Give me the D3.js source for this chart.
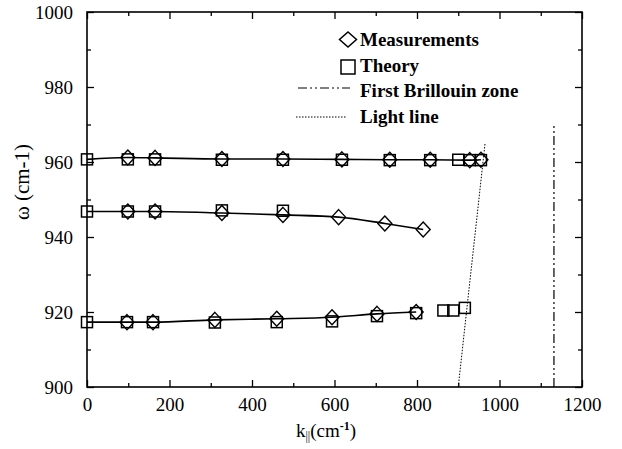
<!DOCTYPE html>
<html>
<head>
<meta charset="utf-8">
<script src="https://cdn.jsdelivr.net/npm/d3@7"></script>
<style>
  body { margin: 0; background: #fff; }
</style>
</head>
<body>
<svg id="chart" width="622" height="449"></svg>
<script>
// upper mode
var kTheoryTop = [0, 99, 165, 327, 475, 618, 734, 832, 900, 928, 955];
var wTheoryTop = [960.7, 960.7, 960.7, 960.6, 960.6, 960.6, 960.5, 960.5, 960.6, 960.5, 960.5];
var kMeasTop = [99, 165, 327, 475, 618, 734, 832, 928, 955];
var wMeasTop = [961.2, 961.1, 960.8, 960.8, 960.7, 960.6, 960.6, 960.5, 960.6];

// middle mode
var kTheoryMid = [0, 99, 165, 327, 475];
var wTheoryMid = [946.8, 946.8, 946.8, 947.1, 947.0];
var kMeasMid = [99, 165, 327, 475, 610, 722, 815];
var wMeasMid = [946.8, 946.8, 946.4, 945.9, 945.3, 943.6, 942.0];

// lower mode
var kTheoryBot = [0, 97, 160, 310, 460, 594, 703, 798, 864, 888, 916];
var wTheoryBot = [917.3, 917.3, 917.3, 917.2, 917.3, 917.5, 918.9, 919.7, 920.4, 920.4, 921.1];
var kMeasBot = [97, 160, 310, 460, 594, 703, 798];
var wMeasBot = [917.3, 917.3, 917.9, 918.2, 918.6, 919.5, 920.0];

// reference lines
var brillouinK = 1132;
var brillouinW = [900, 970];
var lightK = [900, 965];
var lightW = [900, 965];

var xTicks = [0, 200, 400, 600, 800, 1000, 1200];
var yTicks = [900, 920, 940, 960, 980, 1000];

var mLeft = 87, mRight = 582, mTop = 12, mBottom = 387;
var serif = "'Liberation Serif', 'Times New Roman', serif";

var svg = d3.select("#chart").style("font-family", serif);

var x = d3.scaleLinear().domain([0, 1200]).range([mLeft, mRight]);
var y = d3.scaleLinear().domain([900, 1000]).range([mBottom, mTop]);
var fmt = d3.format("d");

function pts(ks, ws) {
    return ks.map(function (k, i) { return [k, ws[i]]; });
}

// axes, ticks pointing inward on all four sides
function addAxis(axis, tf, major) {
    var g = svg.append("g").attr("transform", tf).call(axis.tickFormat(fmt));
    g.attr("font-family", serif).attr("font-size", 19);
    g.select(".domain").remove();
    g.selectAll("line").attr("stroke", "#000").attr("stroke-width", 1.3);
    g.selectAll("text").attr("fill", "#000").style("font-family", serif).style("font-size", "19px");
    if (!major) g.selectAll("text").remove();
    return g;
}

var xMinor = d3.range(100, 1200, 200);
var yMinor = d3.range(910, 1000, 20);

addAxis(d3.axisBottom(x).tickValues(xTicks).tickSize(-7).tickPadding(11), "translate(0," + mBottom + ")", true);
addAxis(d3.axisBottom(x).tickValues(xMinor).tickSize(-4), "translate(0," + mBottom + ")", false);
addAxis(d3.axisTop(x).tickValues(xTicks).tickSize(-7), "translate(0," + mTop + ")", false);
addAxis(d3.axisTop(x).tickValues(xMinor).tickSize(-4), "translate(0," + mTop + ")", false);
addAxis(d3.axisLeft(y).tickValues(yTicks).tickSize(-7).tickPadding(14), "translate(" + mLeft + ",0)", true);
addAxis(d3.axisLeft(y).tickValues(yMinor).tickSize(-4), "translate(" + mLeft + ",0)", false);
addAxis(d3.axisRight(y).tickValues(yTicks).tickSize(-7), "translate(" + mRight + ",0)", false);
addAxis(d3.axisRight(y).tickValues(yMinor).tickSize(-4), "translate(" + mRight + ",0)", false);

svg.append("rect")
    .attr("x", mLeft).attr("y", mTop)
    .attr("width", mRight - mLeft).attr("height", mBottom - mTop)
    .attr("fill", "none").attr("stroke", "#000").attr("stroke-width", 1.6);

// first Brillouin zone
svg.append("line")
    .attr("x1", x(brillouinK)).attr("x2", x(brillouinK))
    .attr("y1", y(brillouinW[0])).attr("y2", y(brillouinW[1]))
    .attr("stroke", "#000").attr("stroke-width", 1.2)
    .attr("stroke-dasharray", "9,3,2,3,2,3");

// light line
svg.append("line")
    .attr("x1", x(lightK[0])).attr("x2", x(lightK[1]))
    .attr("y1", y(lightW[0])).attr("y2", y(lightW[1]))
    .attr("stroke", "#000").attr("stroke-width", 1)
    .attr("stroke-dasharray", "1.5,1.5");

// fitted curves through measurements
var line = d3.line()
    .x(function (d) { return x(d[0]); })
    .y(function (d) { return y(d[1]); })
    .curve(d3.curveMonotoneX);

[[kMeasTop, wMeasTop, wTheoryTop[0]],
 [kMeasMid, wMeasMid, wTheoryMid[0]],
 [kMeasBot, wMeasBot, wTheoryBot[0]]].forEach(function (s) {
    var d = [[0, s[2]]].concat(pts(s[0], s[1]));
    svg.append("path").attr("d", line(d))
        .attr("fill", "none").attr("stroke", "#000").attr("stroke-width", 1.6);
});

// theory squares
var sq = 11;
var theory = pts(kTheoryTop, wTheoryTop).concat(pts(kTheoryMid, wTheoryMid), pts(kTheoryBot, wTheoryBot));
svg.append("g").selectAll("rect").data(theory).enter().append("rect")
    .attr("x", function (d) { return x(d[0]) - sq / 2; })
    .attr("y", function (d) { return y(d[1]) - sq / 2; })
    .attr("width", sq).attr("height", sq)
    .attr("fill", "none").attr("stroke", "#000").attr("stroke-width", 1.5);

// measurement diamonds
var dw = 7, dh = 7.5;
function diamond(cx, cy, w, h) {
    return "M" + cx + "," + (cy - h) + "L" + (cx + w) + "," + cy + "L" + cx + "," + (cy + h) + "L" + (cx - w) + "," + cy + "Z";
}
var meas = pts(kMeasTop, wMeasTop).concat(pts(kMeasMid, wMeasMid), pts(kMeasBot, wMeasBot));
svg.append("g").selectAll("path").data(meas).enter().append("path")
    .attr("d", function (d) { return diamond(x(d[0]), y(d[1]), dw, dh); })
    .attr("fill", "none").attr("stroke", "#000").attr("stroke-width", 1.4);

// legend
var lg = svg.append("g");
var lx = 360;
lg.append("path").attr("d", diamond(348, 39.5, 8.5, 7.5))
    .attr("fill", "none").attr("stroke", "#000").attr("stroke-width", 1.5);
lg.append("rect").attr("x", 341).attr("y", 60).attr("width", 14).attr("height", 14)
    .attr("fill", "none").attr("stroke", "#000").attr("stroke-width", 1.5);
lg.append("line").attr("x1", 298).attr("x2", 350).attr("y1", 88).attr("y2", 88)
    .attr("stroke", "#000").attr("stroke-width", 1.2).attr("stroke-dasharray", "9,3,2,3,2,3");
lg.append("line").attr("x1", 296).attr("x2", 346).attr("y1", 117).attr("y2", 117)
    .attr("stroke", "#000").attr("stroke-width", 1).attr("stroke-dasharray", "1.5,1.5");

var legendLabels = ["Measurements", "Theory", "First Brillouin zone", "Light line"];
var legendY = [46, 72, 97, 122.5];
legendLabels.forEach(function (t, i) {
    lg.append("text").attr("x", lx).attr("y", legendY[i])
        .style("font-family", serif).style("font-size", "19px").style("font-weight", "bold")
        .attr("fill", "#000").text(t);
});

// axis titles
var xt = svg.append("text").attr("x", 326).attr("y", 437)
    .attr("text-anchor", "middle").attr("fill", "#000")
    .style("font-family", serif).style("font-size", "19px");
xt.append("tspan").text("k");
xt.append("tspan").attr("dy", 3).style("font-size", "12px").text("||");
xt.append("tspan").attr("dy", -3).text("(cm");
xt.append("tspan").attr("dy", -7).style("font-size", "12px").style("font-weight", "bold").text("-1");
xt.append("tspan").attr("dy", 7).text(")");

svg.append("text")
    .attr("transform", "translate(29,182) rotate(-90)")
    .attr("text-anchor", "middle").attr("fill", "#000")
    .style("font-family", serif).style("font-size", "21px")
    .text("ω (cm-1)");
</script>
</body>
</html>
